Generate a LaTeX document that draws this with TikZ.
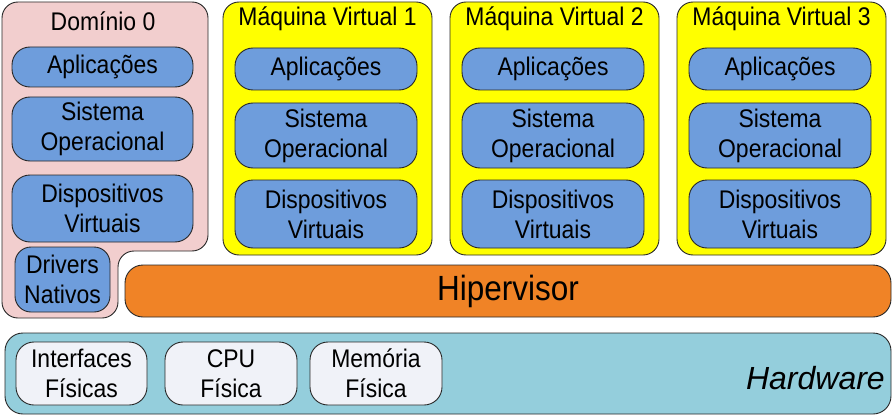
\documentclass[tikz,border=0pt]{standalone}
\usepackage{fontspec}
\setmainfont{Liberation Sans}
\newfontfamily\narrowsans[FakeStretch=0.9]{Liberation Sans}
\definecolor{dompink}{RGB}{242,206,206}
\definecolor{boxblue}{RGB}{110,157,220}
\definecolor{vmyellow}{RGB}{255,255,0}
\definecolor{hiporange}{RGB}{240,131,38}
\definecolor{hwteal}{RGB}{148,206,220}
\definecolor{hwbox}{RGB}{240,242,248}
\definecolor{edge}{RGB}{40,40,40}
\begin{document}
\begin{tikzpicture}[x=1pt,y=-1pt,
  txt/.style={font=\narrowsans\fontsize{25.5}{30}\selectfont, align=center, inner sep=0pt},
  blk/.style={txt, draw=edge, line width=0.9pt, rounded corners=18pt},
  bluebox/.style={blk, fill=boxblue},
  vmbox/.style={blk, fill=vmyellow, rounded corners=16pt},
  hwitem/.style={blk, fill=hwbox},
]
\useasboundingbox (0,0) rectangle (893,417);
% Dominio 0
\draw[draw=edge, line width=0.9pt, fill=dompink, rounded corners=16pt]
  (2,2) -- (208,2) -- (208,251) -- (118,251) -- (118,318) -- (2,318) -- cycle;
\node[txt] (d0t) at (103,21) {Domínio 0};
\node[bluebox, minimum width=181pt, minimum height=40pt] (d0a) at (102.5,67) {Aplicações};
\node[bluebox, minimum width=181pt, minimum height=64pt] (d0s) at (102.5,129) {Sistema\\Operacional};
\node[bluebox, minimum width=181pt, minimum height=67pt] (d0d) at (102.5,208.5) {Dispositivos\\Virtuais};
\node[bluebox, minimum width=95pt, minimum height=65pt, rounded corners=16pt] (d0n) at (62.5,279.5) {Drivers\\Nativos};
% Virtual machines
\foreach \i/\dx in {1/0,2/227,3/454}{
  \node[vmbox, minimum width=209pt, minimum height=253pt] (vm\i) at (327.5+\dx,128.5) {};
  \node[txt] (vm\i t) at (327.5+\dx,19) {Máquina Virtual \i};
  \node[bluebox, minimum width=182pt, minimum height=42pt] (vm\i a) at (326+\dx,69) {Aplicações};
  \node[bluebox, minimum width=182pt, minimum height=65pt] (vm\i s) at (326+\dx,135.5) {Sistema\\Operacional};
  \node[bluebox, minimum width=182pt, minimum height=68pt] (vm\i d) at (326+\dx,214) {Dispositivos\\Virtuais};
}
% Hipervisor
\node[blk, fill=hiporange, minimum width=766pt, minimum height=52pt, font=\narrowsans\fontsize{35}{40}\selectfont] (hip) at (508,291) {Hipervisor};
% Hardware
\node[blk, fill=hwteal, minimum width=886pt, minimum height=81pt] (hw) at (448,373.5) {};
\node[txt, anchor=east, font=\fontsize{32}{36}\selectfont\itshape] (hwt) at (885,378) {Hardware};
\node[hwitem, minimum width=131pt, minimum height=63pt] (hwi) at (81.5,373.5) {Interfaces\\Físicas};
\node[hwitem, minimum width=132pt, minimum height=63pt] (hwc) at (231,373.5) {CPU\\Física};
\node[hwitem, minimum width=132pt, minimum height=63pt] (hwm) at (376,373.5) {Memória\\Física};
\end{tikzpicture}
\end{document}
